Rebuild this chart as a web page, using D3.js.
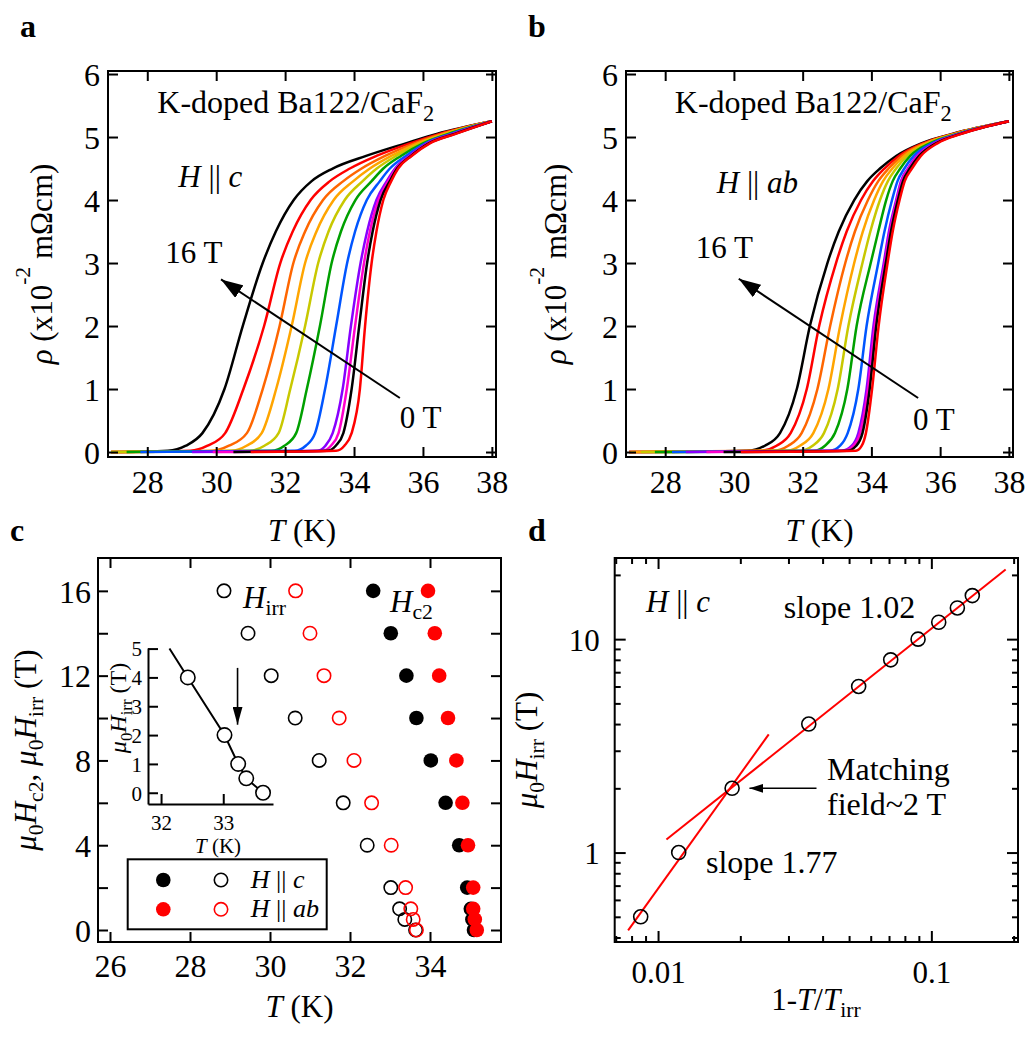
<!DOCTYPE html>
<html>
<head>
<meta charset="utf-8">
<script src="https://cdn.jsdelivr.net/npm/d3@7"></script>
<style>
body { margin: 0; background: #fff; }
svg { font-family: "Liberation Serif", "Times New Roman", serif; }
</style>
</head>
<body>
<script>
// fields (T) shared by panels a, b, c
const fields = [16, 14, 12, 10, 8, 6, 4, 2, 1, 0.5, 0];
const curveColors = ["#000000", "#ff0000", "#ff6600", "#ffa500", "#c8c800", "#00a000", "#0055ff", "#8800ff", "#ff00cc", "#000000", "#ff0000"];

// resistivity levels (x10^-2 mOhm cm); each curve gives the temperature where it reaches them
const rhoLevels = [0, 0.02, 0.1, 0.3, 1, 2, 3, 3.5, 4, 4.3, 4.5, 4.7, 4.9, 5.05, 5.25];

// panel a, H || c
const curvesHc = [
    [26.95, 28.6, 29.12, 29.6, 30.24, 30.77, 31.35, 31.73, 32.25, 32.77, 33.38, 34.35, 35.5, 36.4, 38],
    [26.95, 29.25, 29.75, 30.26, 30.79, 31.39, 31.86, 32.22, 32.74, 33.3, 33.88, 34.65, 35.62, 36.48, 38],
    [26.95, 29.9, 30.37, 30.89, 31.35, 31.84, 32.24, 32.58, 33.1, 33.69, 34.22, 34.9, 35.75, 36.55, 38],
    [26.95, 30.45, 30.88, 31.32, 31.74, 32.19, 32.58, 32.91, 33.41, 33.98, 34.46, 35.08, 35.85, 36.62, 38],
    [26.95, 30.98, 31.4, 31.81, 32.15, 32.58, 32.96, 33.26, 33.73, 34.25, 34.66, 35.22, 35.93, 36.68, 38],
    [27.4, 31.6, 31.98, 32.32, 32.63, 33.01, 33.35, 33.62, 34.04, 34.51, 34.85, 35.36, 36.0, 36.74, 38],
    [27.8, 32.28, 32.6, 32.87, 33.16, 33.48, 33.8, 34.03, 34.37, 34.75, 35.04, 35.5, 36.07, 36.8, 38],
    [29.3, 32.93, 33.17, 33.38, 33.67, 33.91, 34.19, 34.38, 34.65, 34.95, 35.19, 35.6, 36.12, 36.86, 38],
    [29.9, 33.08, 33.33, 33.55, 33.79, 34.03, 34.29, 34.46, 34.71, 34.99, 35.22, 35.63, 36.15, 36.89, 38],
    [30.5, 33.22, 33.47, 33.69, 33.93, 34.15, 34.38, 34.54, 34.77, 35.04, 35.25, 35.65, 36.17, 36.92, 38],
    [31.0, 33.48, 33.72, 33.93, 34.17, 34.32, 34.51, 34.65, 34.85, 35.08, 35.28, 35.67, 36.2, 36.95, 38]
];

// panel b, H || ab
const curvesHab = [
    [26.95, 30.37, 30.9, 31.34, 31.83, 32.21, 32.72, 33.05, 33.5, 33.88, 34.25, 34.72, 35.45, 36.35, 38],
    [26.95, 30.76, 31.24, 31.65, 32.12, 32.48, 32.97, 33.28, 33.7, 34.05, 34.38, 34.8, 35.5, 36.38, 38],
    [26.95, 31.15, 31.58, 31.97, 32.43, 32.8, 33.24, 33.52, 33.9, 34.2, 34.5, 34.88, 35.55, 36.41, 38],
    [27.0, 31.55, 31.92, 32.31, 32.75, 33.09, 33.5, 33.75, 34.08, 34.34, 34.61, 34.96, 35.6, 36.44, 38],
    [27.3, 31.92, 32.29, 32.62, 33.02, 33.33, 33.74, 33.97, 34.25, 34.48, 34.72, 35.04, 35.65, 36.47, 38],
    [27.7, 32.33, 32.65, 32.94, 33.3, 33.57, 33.98, 34.2, 34.43, 34.62, 34.84, 35.13, 35.7, 36.5, 38],
    [28.2, 32.8, 33.09, 33.31, 33.62, 33.86, 34.2, 34.38, 34.6, 34.76, 34.96, 35.23, 35.76, 36.53, 38],
    [28.6, 33.14, 33.43, 33.62, 33.86, 34.06, 34.36, 34.51, 34.72, 34.86, 35.06, 35.32, 35.82, 36.56, 38],
    [29.2, 33.2, 33.48, 33.67, 33.9, 34.1, 34.39, 34.54, 34.74, 34.88, 35.08, 35.35, 35.85, 36.58, 38],
    [29.7, 33.3, 33.56, 33.74, 33.95, 34.14, 34.42, 34.57, 34.77, 34.92, 35.12, 35.39, 35.88, 36.6, 38],
    [30.2, 33.55, 33.72, 33.84, 34.02, 34.21, 34.47, 34.62, 34.82, 34.97, 35.18, 35.44, 35.92, 36.62, 38]
];

// panel c, temperatures (K) for each field in `fields`
const tHc2c = [32.58, 33.02, 33.41, 33.66, 34.02, 34.39, 34.73, 34.93, 35.02, 35.06, 35.1];
const tHc2ab = [33.95, 34.12, 34.23, 34.45, 34.66, 34.81, 34.95, 35.08, 35.08, 35.12, 35.17];
const tIrrC = [28.85, 29.45, 30.03, 30.63, 31.23, 31.83, 32.43, 33.02, 33.24, 33.37, 33.64];
const tIrrAb = [30.64, 31.0, 31.35, 31.73, 32.1, 32.54, 33.03, 33.39, 33.52, 33.58, 33.66];

// inset of panel c: guide line through the low field H || c points
const insetLineT = [32.135, 32.43, 33.02, 33.24, 33.37, 33.64];
const insetLineH = [5, 4, 2, 1, 0.5, 0];

// panel d
const dReduced = [0.00864, 0.0119, 0.01866, 0.0356, 0.0542, 0.071, 0.0894, 0.1064, 0.1245, 0.1412];
const dHirr = [0.5, 1, 2, 4, 6, 8, 10, 12, 14, 16];
const fitHighX = [0.01073, 0.187];
const fitHighH = [1.151, 21.2];
const fitLowX = [0.00777, 0.02541];
const fitLowH = [0.432, 3.58];

const FS = 31;
const TICK_FS = 32;
const svg = d3.select("body").append("svg").attr("width", 1026).attr("height", 1048);

let defs = svg.append("defs");
function marker(id, len, wid) {
    defs.append("marker")
        .attr("id", id)
        .attr("viewBox", `0 0 ${len} ${wid}`)
        .attr("refX", len).attr("refY", wid / 2)
        .attr("markerWidth", len).attr("markerHeight", wid)
        .attr("markerUnits", "userSpaceOnUse")
        .attr("orient", "auto")
        .append("path")
        .attr("d", `M0,0L${len},${wid / 2}L0,${wid}Z`)
        .attr("fill", "#000");
}
marker("headBig", 22, 15);
marker("headInset", 18, 10);
marker("headSmall", 14, 9);

function richText(g, x, y, parts, size, opts) {
    opts = opts || {};
    let t = g.append("text").attr("x", x).attr("y", y).attr("font-size", size);
    if (opts.anchor) t.attr("text-anchor", opts.anchor);
    if (opts.rotate) t.attr("transform", `rotate(-90, ${x}, ${y})`);
    if (opts.weight) t.attr("font-weight", opts.weight);
    let shift = 0;
    for (let p of parts) {
        let s = typeof p === "string" ? { t: p } : p;
        let target = s.sub ? size * 0.24 : s.sup ? -size * 0.72 : 0;
        let ts = t.append("tspan").attr("dy", target - shift).text(s.t);
        shift = target;
        if (s.i) ts.attr("font-style", "italic");
        if (s.sub || s.sup) ts.attr("font-size", size * 0.7);
    }
    return t;
}

function styleAxis(sel, size) {
    sel.attr("font-size", null).attr("font-family", null);
    sel.selectAll(".tick line").attr("stroke-width", 2);
    sel.selectAll("text").attr("font-size", size || TICK_FS).attr("fill", "#000");
}

// frame with inward ticks on all four sides
function drawFrame(g, x, y, o) {
    let [x0, x1] = x.range();
    let [y1, y0] = y.range();
    let sides = [
        [d3.axisBottom(x).tickValues(o.xTicks), `translate(0,${y1})`, true],
        [d3.axisTop(x).tickValues(o.xTicks), `translate(0,${y0})`, false],
        [d3.axisLeft(y).tickValues(o.yTicks), `translate(${x0},0)`, true],
        [d3.axisRight(y).tickValues(o.yTicks), `translate(${x1},0)`, false]
    ];
    sides.forEach(([axis, tr, labelled], i) => {
        axis.tickSize(-(o.tickLen || 10)).tickSizeOuter(0);
        if (!labelled) axis.tickFormat("");
        else axis.tickFormat(i === 0 ? o.xFmt : o.yFmt);
        let a = g.append("g").attr("transform", tr).call(axis);
        a.select(".domain").remove();
        styleAxis(a, o.fontSize);
        if (i === 0) a.selectAll("text").attr("dy", null).attr("y", o.xLabelY);
        if (i === 2) a.selectAll("text").attr("dy", "0.35em").attr("x", -o.yLabelX);
    });
    if (o.xMinor) {
        [[d3.axisBottom(x), y1], [d3.axisTop(x), y0]].forEach(([axis, pos]) => {
            let a = g.append("g").attr("transform", `translate(0,${pos})`)
                .call(axis.tickValues(o.xMinor).tickSize(-6).tickFormat(""));
            a.select(".domain").remove();
            styleAxis(a);
        });
        [[d3.axisLeft(y), x0], [d3.axisRight(y), x1]].forEach(([axis, pos]) => {
            let a = g.append("g").attr("transform", `translate(${pos},0)`)
                .call(axis.tickValues(o.yMinor).tickSize(-6).tickFormat(""));
            a.select(".domain").remove();
            styleAxis(a);
        });
    }
    g.append("rect")
        .attr("x", x0).attr("y", y0)
        .attr("width", x1 - x0).attr("height", y1 - y0)
        .attr("fill", "none").attr("stroke", "#000").attr("stroke-width", 2);
}

function drawResistivity(left, curves, hLabel, layout) {
    let x = d3.scaleLinear().domain([26.86, 38.12]).range([left.x0, left.x1]);
    let y = d3.scaleLinear().domain([-0.079, 6.048]).range([457, 71]);
    let g = svg.append("g");
    let line = d3.line().x(d => x(d[0])).y(d => y(d[1])).curve(d3.curveMonotoneX);

    g.selectAll("path.curve").data(curves).join("path")
        .attr("class", "curve")
        .attr("d", c => line(c.map((t, i) => [t, rhoLevels[i]])))
        .attr("fill", "none")
        .attr("stroke", (c, i) => curveColors[i])
        .attr("stroke-width", 2.5);

    drawFrame(g, x, y, {
        xTicks: d3.range(28, 39, 2), yTicks: d3.range(0, 7, 1),
        xFmt: d3.format("d"), yFmt: d3.format("d"),
        xLabelY: 36, yLabelX: 8
    });

    let cx = (left.x0 + left.x1) / 2;
    richText(g, cx, 541, [{ t: "T", i: true }, " (K)"], FS, { anchor: "middle" });
    richText(g, left.ylab, 264, [{ t: "ρ", i: true }, " (x10", { t: "-2", sup: true }, "  mΩcm)"], FS, { anchor: "middle", rotate: true });
    richText(g, x(layout.title[0]), y(layout.title[1]), ["K-doped Ba122/CaF", { t: "2", sub: true }], 32);
    richText(g, x(layout.h[0]), y(layout.h[1]), [{ t: "H", i: true }, " || ", { t: hLabel, i: true }], FS);
    richText(g, x(layout.t16[0]), y(layout.t16[1]), ["16 T"], FS);
    richText(g, x(layout.t0[0]), y(layout.t0[1]), ["0 T"], FS);

    g.append("line")
        .attr("x1", x(layout.arrow[0])).attr("y1", y(layout.arrow[1]))
        .attr("x2", x(layout.arrow[2])).attr("y2", y(layout.arrow[3]))
        .attr("stroke", "#000").attr("stroke-width", 2)
        .attr("marker-end", "url(#headBig)");
}

drawResistivity({ x0: 108, x1: 496, ylab: 52 }, curvesHc, "c", {
    title: [28.29, 5.38], h: [28.9, 4.21], t16: [28.52, 3.0], t0: [35.33, 0.38],
    arrow: [35.33, 0.857, 30.14, 2.74]
});
drawResistivity({ x0: 626, x1: 1013, ylab: 566 }, curvesHab, "ab", {
    title: [28.28, 5.38], h: [29.5, 4.11], t16: [28.89, 3.08], t0: [35.21, 0.35],
    arrow: [35.36, 0.857, 30.14, 2.75]
});

// panel c
function drawPhase() {
    let x = d3.scaleLinear().domain([25.7, 35.775]).range([98, 501]);
    let y = d3.scaleLinear().domain([-0.566, 17.55]).range([942, 558]);
    let g = svg.append("g");
    let r = 6.7;

    let series = [
        { t: tHc2c, color: "#000", filled: true },
        { t: tHc2ab, color: "#ff0000", filled: true },
        { t: tIrrC, color: "#000", filled: false },
        { t: tIrrAb, color: "#ff0000", filled: false }
    ];
    series.forEach(s => {
        g.append("g").selectAll("circle").data(s.t).join("circle")
            .attr("cx", d => x(d))
            .attr("cy", (d, i) => y(fields[i]))
            .attr("r", s.filled ? r + 0.6 : r)
            .attr("fill", s.filled ? s.color : "none")
            .attr("stroke", s.color)
            .attr("stroke-width", s.filled ? 0 : 1.6);
    });

    drawFrame(g, x, y, {
        xTicks: d3.range(26, 35, 2), yTicks: d3.range(0, 17, 2),
        xFmt: d3.format("d"), yFmt: d => d % 4 === 0 ? d : "",
        xLabelY: 35, yLabelX: 7
    });

    richText(g, 299.5, 1017, [{ t: "T", i: true }, " (K)"], FS, { anchor: "middle" });
    richText(g, 36, 750, [{ t: "μ", i: true }, { t: "0", sub: true }, { t: "H", i: true }, { t: "c2", sub: true }, ", ",
        { t: "μ", i: true }, { t: "0", sub: true }, { t: "H", i: true }, { t: "irr", sub: true }, " (T)"], FS, { anchor: "middle", rotate: true });
    richText(g, 243, 608, [{ t: "H", i: true }, { t: "irr", sub: true }], FS);
    richText(g, 390, 612, [{ t: "H", i: true }, { t: "c2", sub: true }], FS);

    // inset
    let xi = d3.scaleLinear().domain([31.79, 33.8]).range([148, 273]);
    let yi = d3.scaleLinear().domain([-0.39, 5.02]).range([804, 648]);
    let gi = g.append("g");
    let ax = gi.append("g").attr("transform", "translate(0,804)")
        .call(d3.axisBottom(xi).tickValues([32, 33]).tickSize(-10).tickSizeOuter(0).tickFormat(d3.format("d")));
    let ay = gi.append("g").attr("transform", "translate(148,0)")
        .call(d3.axisLeft(yi).tickValues(d3.range(0, 6)).tickSize(-10).tickSizeOuter(0).tickFormat(d3.format("d")));
    [ax, ay].forEach(a => {
        styleAxis(a, 21);
        a.select(".domain").attr("stroke-width", 2);
    });
    ax.selectAll("text").attr("dy", null).attr("y", 26);
    ay.selectAll("text").attr("dy", "0.35em").attr("x", -6);

    gi.append("path")
        .attr("d", d3.line().x(d => xi(d[0])).y(d => yi(d[1]))(insetLineT.map((t, i) => [t, insetLineH[i]])))
        .attr("fill", "none").attr("stroke", "#000").attr("stroke-width", 2);
    gi.selectAll("circle").data(tIrrC.slice(6)).join("circle")
        .attr("cx", d => xi(d))
        .attr("cy", (d, i) => yi(fields[i + 6]))
        .attr("r", 7.2)
        .attr("fill", "#fff").attr("stroke", "#000").attr("stroke-width", 1.6);
    gi.append("line")
        .attr("x1", xi(33.23)).attr("y1", yi(4.33))
        .attr("x2", xi(33.23)).attr("y2", yi(2.36))
        .attr("stroke", "#000").attr("stroke-width", 1.6)
        .attr("marker-end", "url(#headInset)");
    richText(gi, 218, 853, [{ t: "T", i: true }, " (K)"], 21, { anchor: "middle" });
    richText(gi, 126, 708, [{ t: "μ", i: true }, { t: "0", sub: true }, { t: "H", i: true }, { t: "irr", sub: true }, " (T)"], 24, { anchor: "middle", rotate: true });

    // legend
    let lg = g.append("g");
    lg.append("rect").attr("x", 127.7).attr("y", 859.3).attr("width", 199).attr("height", 70)
        .attr("fill", "#fff").attr("stroke", "#000").attr("stroke-width", 2);
    [["#000", "c", 880], ["#ff0000", "ab", 909.3]].forEach(([c, lab, cy]) => {
        lg.append("circle").attr("cx", 163.3).attr("cy", cy).attr("r", r + 0.6).attr("fill", c);
        lg.append("circle").attr("cx", 221).attr("cy", cy).attr("r", r)
            .attr("fill", "none").attr("stroke", c).attr("stroke-width", 1.6);
        richText(lg, 250.7, cy + 8, [{ t: "H", i: true }, " || ", { t: lab, i: true }], 26);
    });
}
drawPhase();

// panel d
function drawScaling() {
    let x = d3.scaleLog().domain([0.00694, 0.2075]).range([614.7, 1018]);
    let y = d3.scaleLog().domain([0.381, 24]).range([942, 558]);
    let g = svg.append("g");

    let majorX = [0.01, 0.1], majorY = [1, 10];
    drawFrame(g, x, y, {
        xTicks: majorX, yTicks: majorY, tickLen: 11, fontSize: FS,
        xMinor: x.ticks().filter(d => !majorX.includes(d)),
        yMinor: y.ticks().filter(d => !majorY.includes(d)),
        xFmt: d => d, yFmt: d => d,
        xLabelY: 41, yLabelX: 15
    });

    let line = d3.line().x(d => x(d[0])).y(d => y(d[1]));
    [[fitHighX, fitHighH], [fitLowX, fitLowH]].forEach(([xs, hs]) => {
        g.append("path")
            .attr("d", line(xs.map((v, i) => [v, hs[i]])))
            .attr("stroke", "#ff0000").attr("stroke-width", 2).attr("fill", "none");
    });
    g.selectAll("circle.pt").data(dReduced).join("circle")
        .attr("class", "pt")
        .attr("cx", d => x(d))
        .attr("cy", (d, i) => y(dHirr[i]))
        .attr("r", 7)
        .attr("fill", "none").attr("stroke", "#000").attr("stroke-width", 1.6);

    g.append("line")
        .attr("x1", x(0.038)).attr("y1", y(2))
        .attr("x2", x(0.0216)).attr("y2", y(2))
        .attr("stroke", "#000").attr("stroke-width", 1.6)
        .attr("marker-end", "url(#headSmall)");

    richText(g, 816, 1010, ["1-", { t: "T", i: true }, "/", { t: "T", i: true }, { t: "irr", sub: true }], FS, { anchor: "middle" });
    richText(g, 537, 750, [{ t: "μ", i: true }, { t: "0", sub: true }, { t: "H", i: true }, { t: "irr", sub: true }, " (T)"], FS, { anchor: "middle", rotate: true });
    richText(g, 646, 612, [{ t: "H", i: true }, " || ", { t: "c", i: true }], FS);
    richText(g, 783.7, 618, ["slope 1.02"], 32);
    richText(g, 827, 780, ["Matching"], 32);
    richText(g, 827, 815, ["field~2 T"], 32);
    richText(g, 706, 873, ["slope 1.77"], 32);
}
drawScaling();

// panel letters
[["a", 20, 37], ["b", 528, 37], ["c", 10, 541], ["d", 528, 541]].forEach(([l, px, py]) => {
    richText(svg, px, py, [l], 32, { weight: "bold" });
});
</script>
</body>
</html>
